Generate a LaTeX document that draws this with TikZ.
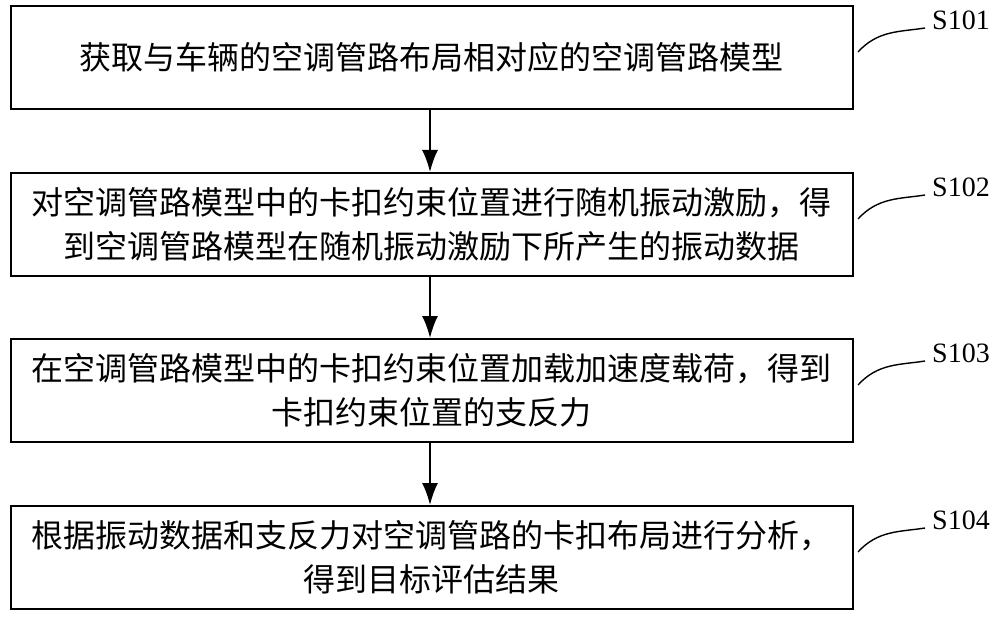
\documentclass[tikz,border=0pt]{standalone}
\usepackage{fontspec}
\usetikzlibrary{arrows.meta}
\newfontfamily\cjk{Noto Sans CJK SC}
\setmainfont{Liberation Serif}
\begin{document}
\begin{tikzpicture}[x=1pt,y=-1pt,
  stepbox/.style={draw,line width=1.6pt,minimum width=842pt,minimum height=103pt,anchor=north west,inner sep=0pt},
  txt/.style={font=\cjk\fontsize{32}{44}\selectfont,align=center},
  arr/.style={line width=1.8pt,-{Latex[length=22pt,width=16pt]}},
  lab/.style={font=\fontsize{28}{32}\selectfont},
  crv/.style={line width=1.4pt}]
\useasboundingbox (0,0) rectangle (1000,617);
\node[stepbox] (b1) at (10,5) {};
\node[stepbox] (b2) at (10,172) {};
\node[stepbox] (b3) at (10,338) {};
\node[stepbox] (b4) at (10,505) {};
\node[txt] at (b1.center) {获取与车辆的空调管路布局相对应的空调管路模型};
\node[txt] at (b2.center) {对空调管路模型中的卡扣约束位置进行随机振动激励，得\\到空调管路模型在随机振动激励下所产生的振动数据};
\node[txt] at (b3.center) {在空调管路模型中的卡扣约束位置加载加速度载荷，得到\\卡扣约束位置的支反力};
\node[txt] at (b4.center) {根据振动数据和支反力对空调管路的卡扣布局进行分析，\\得到目标评估结果};
\draw[arr] (b1.south -| 430,0) -- (b2.north -| 430,0);
\draw[arr] (b2.south -| 430,0) -- (b3.north -| 430,0);
\draw[arr] (b3.south -| 430,0) -- (b4.north -| 430,0);
\foreach \b/\l/\y in {b1/S101/20,b2/S102/187,b3/S103/353,b4/S104/520}{
  \node[lab] (\l) at (961,\y) {\l};
  \coordinate (\l s) at (858,\y+32);
  \draw[crv] (\l s) .. controls (878,\y+10) and (900,\y+12) .. (925,\y+8);
}
\end{tikzpicture}
\end{document}
